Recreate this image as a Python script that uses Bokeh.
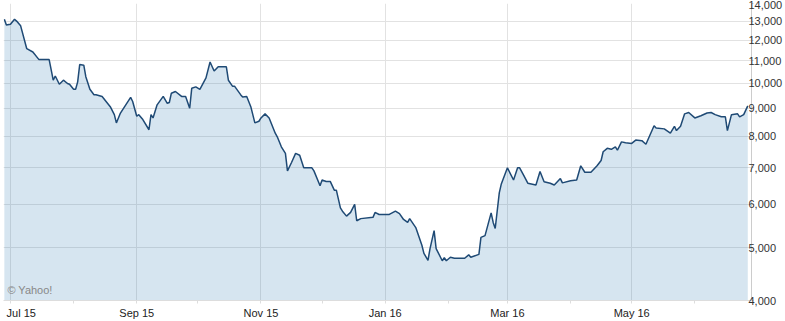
import pandas as pd
from bokeh.plotting import figure
from bokeh.models import FixedTicker, NumeralTickFormatter, Range1d, ColumnDataSource, Label
from bokeh.embed import file_html
from bokeh.resources import INLINE

dates = [
    "2015-06-28", "2015-06-29", "2015-07-01", "2015-07-03", "2015-07-04", "2015-07-06", "2015-07-09", "2015-07-12", "2015-07-15", "2015-07-20",
    "2015-07-22", "2015-07-23", "2015-07-25", "2015-07-27", "2015-07-29", "2015-07-30", "2015-08-01", "2015-08-02", "2015-08-03", "2015-08-04",
    "2015-08-06", "2015-08-07", "2015-08-09", "2015-08-11", "2015-08-12", "2015-08-15", "2015-08-19", "2015-08-21", "2015-08-22", "2015-08-24",
    "2015-08-29", "2015-08-30", "2015-09-01", "2015-09-02", "2015-09-04", "2015-09-07", "2015-09-08", "2015-09-09", "2015-09-11", "2015-09-14",
    "2015-09-16", "2015-09-17", "2015-09-18", "2015-09-20", "2015-09-23", "2015-09-25", "2015-09-27", "2015-09-28", "2015-09-30", "2015-10-02",
    "2015-10-05", "2015-10-07", "2015-10-09", "2015-10-11", "2015-10-15", "2015-10-16", "2015-10-18", "2015-10-19", "2015-10-22", "2015-10-23",
    "2015-10-25", "2015-10-27", "2015-10-29", "2015-10-31", "2015-11-01", "2015-11-03", "2015-11-05", "2015-11-08", "2015-11-09", "2015-11-11",
    "2015-11-13", "2015-11-14", "2015-11-16", "2015-11-18", "2015-11-20", "2015-11-22", "2015-11-26", "2015-11-27", "2015-11-30", "2015-12-01",
    "2015-12-03", "2015-12-05", "2015-12-07", "2015-12-08", "2015-12-10", "2015-12-11", "2015-12-13", "2015-12-15", "2015-12-17", "2015-12-18",
    "2015-12-20", "2015-12-26", "2015-12-27", "2015-12-29", "2016-01-03", "2016-01-06", "2016-01-08", "2016-01-10", "2016-01-12", "2016-01-13",
    "2016-01-16", "2016-01-19", "2016-01-20", "2016-01-22", "2016-01-23", "2016-01-25", "2016-01-26", "2016-01-29", "2016-01-30", "2016-01-31",
    "2016-02-02", "2016-02-04", "2016-02-09", "2016-02-11", "2016-02-12", "2016-02-16", "2016-02-17", "2016-02-19", "2016-02-22", "2016-02-23",
    "2016-02-24", "2016-02-26", "2016-02-27", "2016-03-01", "2016-03-04", "2016-03-06", "2016-03-07", "2016-03-09", "2016-03-11", "2016-03-15",
    "2016-03-17", "2016-03-19", "2016-03-22", "2016-03-24", "2016-03-27", "2016-03-28", "2016-04-01", "2016-04-04", "2016-04-06", "2016-04-08",
    "2016-04-11", "2016-04-14", "2016-04-16", "2016-04-17", "2016-04-19", "2016-04-21", "2016-04-23", "2016-04-24", "2016-04-26", "2016-04-28",
    "2016-05-01", "2016-05-03", "2016-05-06", "2016-05-08", "2016-05-12", "2016-05-13", "2016-05-17", "2016-05-20", "2016-05-22", "2016-05-23",
    "2016-05-25", "2016-05-27", "2016-05-29", "2016-06-01", "2016-06-04", "2016-06-07", "2016-06-09", "2016-06-11", "2016-06-14", "2016-06-16",
    "2016-06-17", "2016-06-19", "2016-06-22", "2016-06-23", "2016-06-25", "2016-06-27",
]

prices = [
    13100, 12790, 12830, 13100, 13000, 12740, 11570, 11410, 11050, 11050,
    10130, 10310, 9960, 10130, 9990, 9960, 9750, 9750, 10060, 10820,
    10790, 10280, 9750, 9530, 9530, 9460, 9060, 8760, 8460, 8820,
    9420, 9260, 8700, 8760, 8580, 8220, 8760, 8640, 9130, 9460,
    9190, 9220, 9590, 9660, 9460, 9460, 9000, 9790, 9850, 9750,
    10230, 10940, 10530, 10720, 10720, 10130, 9880, 9880, 9530, 9440,
    9460, 9060, 8460, 8520, 8640, 8790, 8640, 8100, 7980, 7650,
    7440, 6910, 7160, 7440, 7380, 7000, 7000, 6910, 6490, 6650,
    6610, 6610, 6370, 6370, 5910, 5830, 5710, 5800, 6000, 5600,
    5650, 5680, 5800, 5750, 5750, 5830, 5770, 5630, 5560, 5650,
    5440, 5050, 4880, 4740, 4980, 5370, 4980, 4730, 4790, 4730,
    4800, 4780, 4780, 4850, 4800, 4860, 5220, 5260, 5790, 5560,
    5420, 6300, 6540, 7000, 6650, 7000, 7000, 6780, 6560, 6510,
    6890, 6600, 6560, 6510, 6690, 6570, 6630, 6650, 7060, 6870,
    6870, 7060, 7220, 7490, 7600, 7570, 7650, 7540, 7810, 7780,
    7760, 7870, 7850, 7730, 8360, 8280, 8250, 8100, 8340, 8190,
    8340, 8790, 8840, 8640, 8720, 8820, 8840, 8760, 8680, 8680,
    8190, 8760, 8790, 8680, 8760, 9090,
]

x_tick_dates = ["2015-07-01", "2015-09-01", "2015-11-01", "2016-01-01", "2016-03-01", "2016-05-01"]
x_tick_labels = ["Jul 15", "Sep 15", "Nov 15", "Jan 16", "Mar 16", "May 16"]
x_minor_dates = ["2015-08-01", "2015-10-01", "2015-12-01", "2016-02-01", "2016-04-01", "2016-06-01"]
y_ticks = [4000, 5000, 6000, 7000, 8000, 9000, 10000, 11000, 12000, 13000, 14000]
y_min, y_max = 4000, 14000
x_start, x_end = "2015-06-27 14:00", "2016-06-28 20:00"
credit = "\u00a9 Yahoo!"


def ms(s):
    return pd.Timestamp(s).value / 1e6


FONT = "Liberation Sans"

src = ColumnDataSource(dict(
    date=pd.to_datetime(dates),
    price=prices,
    base=[y_min] * len(prices),
))

p = figure(
    width=785, height=321,
    x_axis_type="datetime", y_axis_type="log",
    y_axis_location="right",
    x_range=Range1d(ms(x_start), ms(x_end)),
    y_range=Range1d(y_min, y_max),
    output_backend="svg", toolbar_location=None,
    min_border_left=3, min_border_top=3, min_border_bottom=21, min_border_right=0,
    outline_line_color=None,
    background_fill_color="white", border_fill_color="white",
)

p.varea(x="date", y1="base", y2="price", source=src, fill_color="#327DB4", fill_alpha=0.2)
p.line(x="date", y="price", source=src, line_color="#1F4A75", line_width=1.5)

major_ms = [ms(d) for d in x_tick_dates]
minor_ms = [ms(d) for d in x_minor_dates]

xa = p.xaxis[0]
xa.ticker = FixedTicker(ticks=major_ms, minor_ticks=minor_ms)
overrides = {}
for i, (t, lab) in enumerate(zip(major_ms, x_tick_labels)):
    overrides[t] = ("\u00a0" * 2 + lab) if i == 0 else lab
xa.major_label_overrides = overrides
xa.major_label_text_font = FONT
xa.major_label_text_font_size = "11px"
xa.major_label_text_color = "#222222"
xa.major_label_standoff = 3
xa.major_tick_out = 3
xa.major_tick_in = 0
xa.minor_tick_out = 3
xa.minor_tick_in = 0
xa.axis_line_color = "#dddddd"
xa.major_tick_line_color = "#dddddd"
xa.minor_tick_line_color = "#dddddd"

ya = p.yaxis[0]
ya.ticker = FixedTicker(ticks=y_ticks, minor_ticks=[])
ya.formatter = NumeralTickFormatter(format="0,0")
ya.major_label_text_font = FONT
ya.major_label_text_font_size = "11px"
ya.major_label_text_color = "#333333"
ya.major_label_standoff = -5
ya.major_tick_out = 2
ya.major_tick_in = 0
ya.minor_tick_line_color = None
ya.axis_line_color = "#cccccc"
ya.major_tick_line_color = "#cccccc"

p.xgrid.ticker = FixedTicker(ticks=major_ms)
p.ygrid.ticker = FixedTicker(ticks=y_ticks)
p.xgrid.grid_line_color = "#e2e2e2"
p.ygrid.grid_line_color = "#e2e2e2"

p.add_layout(Label(
    x=ms("2015-06-29 12:00"), y=4185, text=credit,
    text_font=FONT, text_font_size="11px", text_color="#888888",
    text_baseline="alphabetic",
))

open("out.html", "w").write(file_html(p, INLINE))
